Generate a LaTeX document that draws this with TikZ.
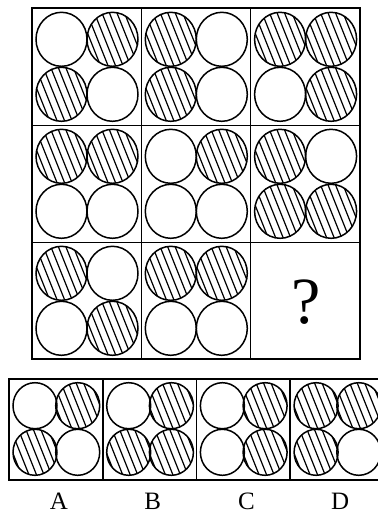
\documentclass[tikz,border=0pt]{standalone}
\usepackage{fontspec}
\setmainfont{Liberation Serif}
\tikzset{
  ring/.style={line width=1.5pt},
  hatch/.style={line width=1.2pt},
  frame/.style={line width=2pt},
  divider/.style={line width=1.6pt},
  qmark/.style={font=\fontsize{66}{66}\selectfont, inner sep=0pt},
  optlabel/.style={font=\fontsize{25}{25}\selectfont, inner sep=0pt}
}
\newcommand\hball[5]{%
  \ifnum#5=1
    \begin{scope}
      \clip (#1,#2) ellipse [x radius=#3, y radius=#4];
      \foreach \k in {-45,-37.5,...,45}
        \draw[hatch] ({#1+\k-14},{#2-35}) -- ({#1+\k+14},{#2+35});
    \end{scope}
  \fi
  \draw[ring] (#1,#2) ellipse [x radius=#3, y radius=#4];
}
\begin{document}
\begin{tikzpicture}[x=1pt,y=-1pt]
\useasboundingbox (0,0) rectangle (378,515);
\fill[white] (0,0) rectangle (378,515);
% main grid
\foreach \r/\c/\a/\b/\cc/\d in {0/0/0/1/1/0, 0/1/1/0/1/0, 0/2/1/1/0/1,
  1/0/1/1/0/0, 1/1/0/1/0/0, 1/2/1/0/1/1, 2/0/1/0/0/1, 2/1/1/1/0/0}{
  \pgfmathsetmacro\xa{32+109.3*\c+29.5}
  \pgfmathsetmacro\xb{32+109.3*\c+80.5}
  \pgfmathsetmacro\ya{8.3+117*\r+31}
  \pgfmathsetmacro\yb{8.3+117*\r+86}
  \hball{\xa}{\ya}{25.5}{27}{\a}
  \hball{\xb}{\ya}{25.5}{27}{\b}
  \hball{\xa}{\yb}{25.5}{27}{\cc}
  \hball{\xb}{\yb}{25.5}{27}{\d}
}
\draw[divider] (141.3,8.3) -- (141.3,359.3) (250.6,8.3) -- (250.6,359.3)
  (32,125.3) -- (360,125.3) (32,242.3) -- (360,242.3);
\draw[frame] (32,8.3) rectangle (360,359.3);
\node[qmark] (q) at (306.5,302) {?};
% options
\foreach \i/\a/\b/\cc/\d/\L in {0/0/1/1/0/A, 1/0/1/1/1/B, 2/0/1/0/1/C, 3/1/1/1/0/D}{
  \pgfmathsetmacro\xo{9+93.7*\i}
  \pgfmathsetmacro\xa{\xo+26}
  \pgfmathsetmacro\xb{\xo+68.7}
  \hball{\xa}{405.7}{22}{23}{\a}
  \hball{\xb}{405.7}{22}{23}{\b}
  \hball{\xa}{452.3}{22}{23}{\cc}
  \hball{\xb}{452.3}{22}{23}{\d}
  \node[optlabel] (lab\L) at ({\xo+50},501) {\L};
}
\draw[divider] (102.7,379) -- (102.7,480) (196.4,379) -- (196.4,480) (290.1,379) -- (290.1,480);
\draw[frame] (9,379) rectangle (384,480);
\end{tikzpicture}
\end{document}
